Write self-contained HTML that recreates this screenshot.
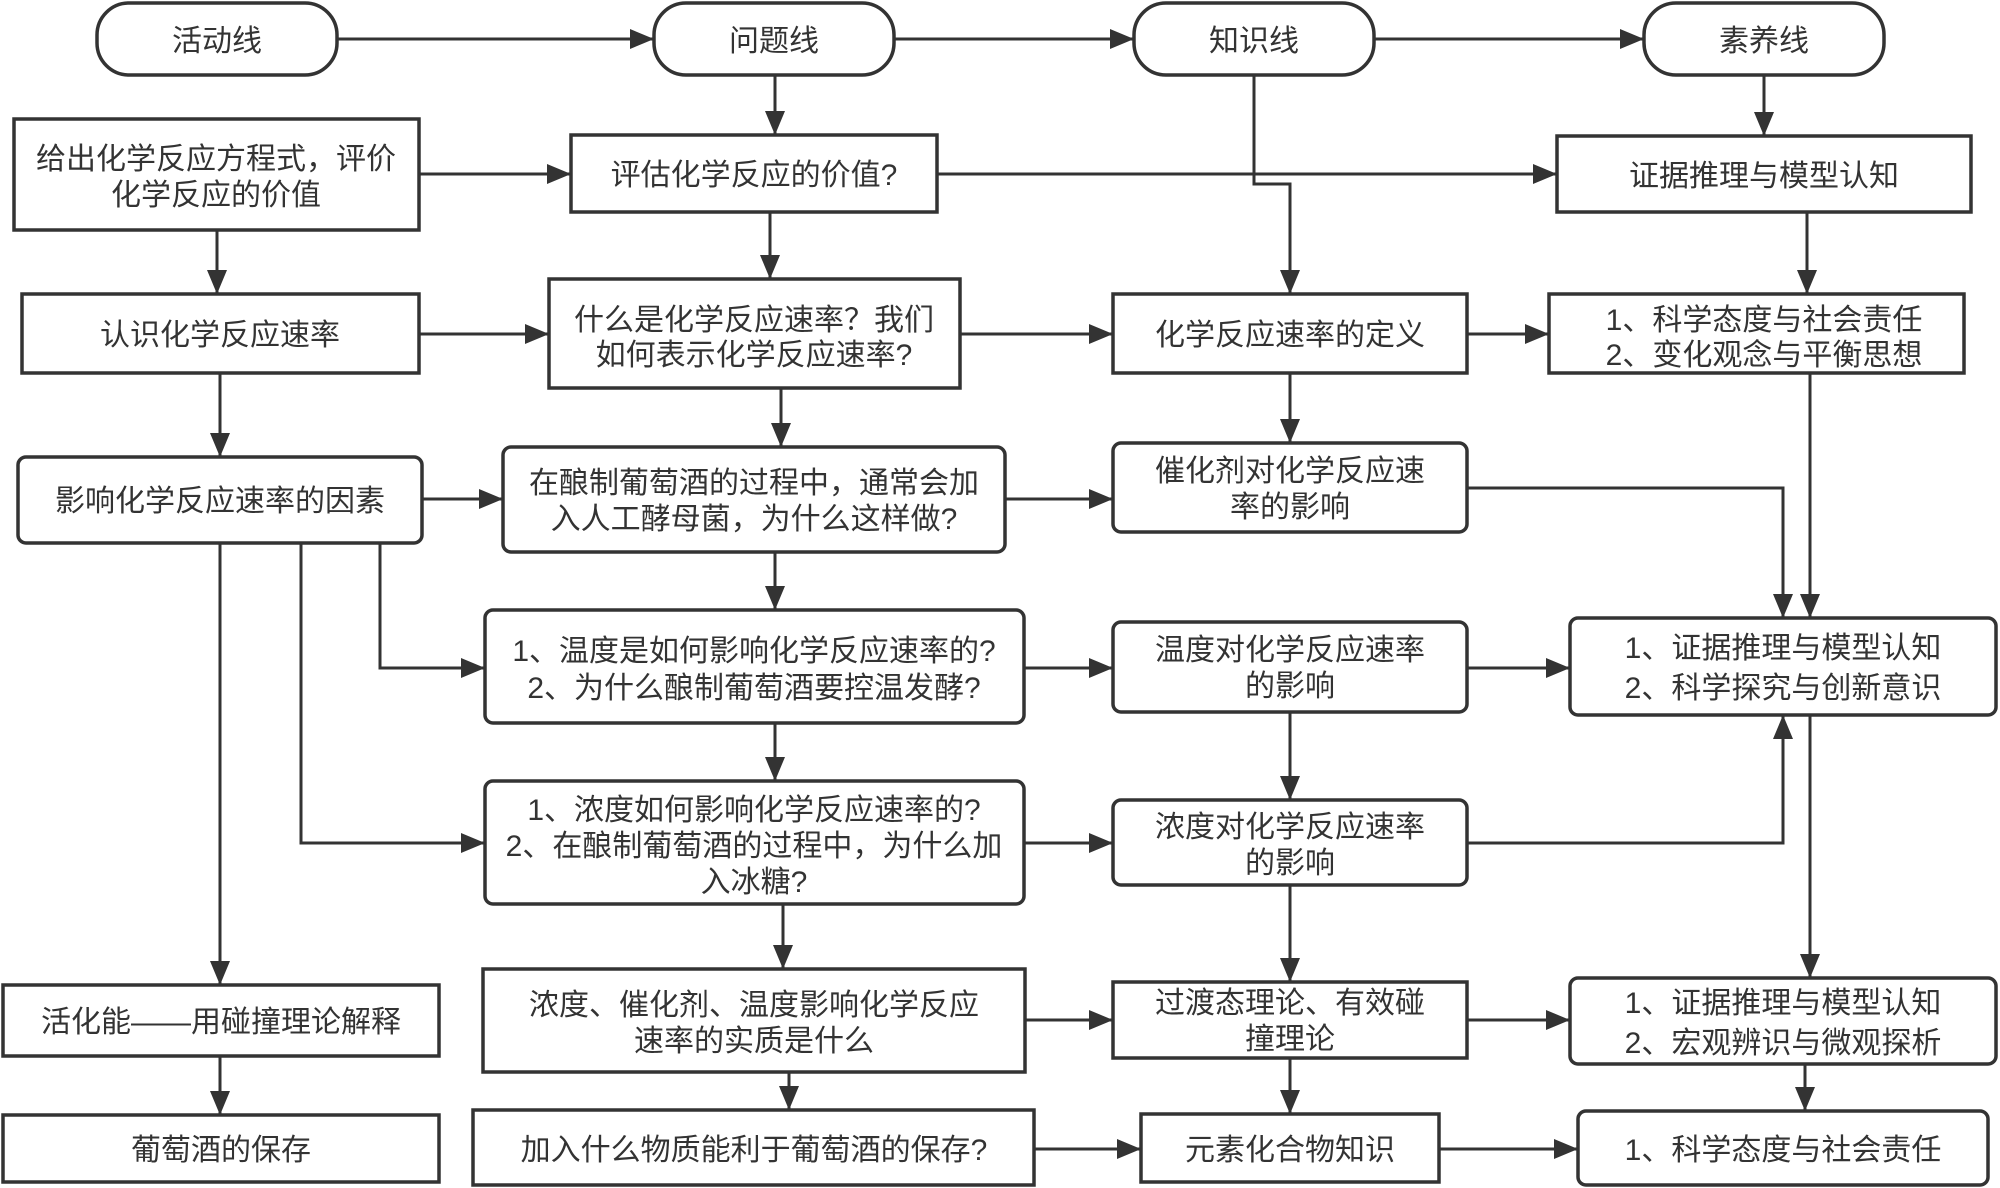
<!DOCTYPE html>
<html><head><meta charset="utf-8"><style>
html,body{margin:0;padding:0;background:#fff;}
svg{display:block;}
text{font-family:"Liberation Sans","Noto Sans CJK SC",sans-serif;font-size:30px;fill:#333;text-anchor:middle;}
</style></head><body>
<svg width="2000" height="1188" viewBox="0 0 2000 1188" xmlns="http://www.w3.org/2000/svg">
<defs>
<marker id="b" viewBox="0 0 24 20" refX="24" refY="10" markerWidth="24" markerHeight="20" markerUnits="userSpaceOnUse" orient="auto">
<path d="M0,0 L24,10 L0,20 z" fill="#333"/>
</marker>
</defs>
<g fill="#fff" stroke="#333" stroke-width="3.5">
<rect x="97" y="3" width="240" height="72" rx="32"/>
<rect x="654" y="3" width="240" height="72" rx="32"/>
<rect x="1134" y="3" width="240" height="72" rx="32"/>
<rect x="1644" y="3" width="240" height="72" rx="32"/>
<rect x="14" y="119" width="405" height="111"/>
<rect x="22" y="294" width="397" height="79"/>
<rect x="18" y="457" width="404" height="86" rx="8"/>
<rect x="3" y="985" width="436" height="71"/>
<rect x="3" y="1115" width="436" height="67"/>
<rect x="571" y="135" width="366" height="77"/>
<rect x="549" y="279" width="411" height="109"/>
<rect x="503" y="447" width="502" height="105" rx="8"/>
<rect x="485" y="610" width="539" height="113" rx="8"/>
<rect x="485" y="781" width="539" height="123" rx="8"/>
<rect x="483" y="969" width="542" height="103"/>
<rect x="473" y="1110" width="561" height="75"/>
<rect x="1113" y="294" width="354" height="79"/>
<rect x="1113" y="443" width="354" height="89" rx="8"/>
<rect x="1113" y="622" width="354" height="90" rx="8"/>
<rect x="1113" y="800" width="354" height="85" rx="8"/>
<rect x="1113" y="982" width="354" height="76"/>
<rect x="1141" y="1114" width="298" height="68"/>
<rect x="1557" y="136" width="414" height="76"/>
<rect x="1549" y="294" width="415" height="79"/>
<rect x="1570" y="618" width="426" height="97" rx="8"/>
<rect x="1570" y="978" width="426" height="86" rx="8"/>
<rect x="1578" y="1111" width="410" height="74" rx="8"/>
</g>
<g fill="none" stroke="#333" stroke-width="3" marker-end="url(#b)">
<path d="M337,39 H654"/>
<path d="M894,39 H1134"/>
<path d="M1374,39 H1644"/>
<path d="M775,75 V135"/>
<path d="M1764,75 V136"/>
<path d="M1254,75 V184 H1290 V294"/>
<path d="M419,174 H571"/>
<path d="M937,174 H1557"/>
<path d="M217,230 V294"/>
<path d="M419,334 H549"/>
<path d="M960,334 H1113"/>
<path d="M1467,334 H1549"/>
<path d="M770,212 V279"/>
<path d="M1807,212 V294"/>
<path d="M220,373 V457"/>
<path d="M422,499 H503"/>
<path d="M1005,499 H1113"/>
<path d="M781,388 V447"/>
<path d="M1290,373 V443"/>
<path d="M1467,488 H1783 V618"/>
<path d="M1810,373 V618"/>
<path d="M775,552 V610"/>
<path d="M220,543 V985"/>
<path d="M301,543 V843 H485"/>
<path d="M380,543 V668 H485"/>
<path d="M1024,668 H1113"/>
<path d="M1467,668 H1570"/>
<path d="M775,723 V781"/>
<path d="M1024,843 H1113"/>
<path d="M1467,843 H1783 V715"/>
<path d="M1290,712 V800"/>
<path d="M1290,885 V982"/>
<path d="M1810,715 V978"/>
<path d="M783,904 V969"/>
<path d="M1025,1020 H1113"/>
<path d="M1467,1020 H1570"/>
<path d="M220,1056 V1115"/>
<path d="M789,1072 V1110"/>
<path d="M1034,1149 H1141"/>
<path d="M1439,1149 H1578"/>
<path d="M1290,1058 V1114"/>
<path d="M1805,1064 V1111"/>
</g>
<g>
<text x="217" y="51">活动线</text>
<text x="774" y="51">问题线</text>
<text x="1254" y="51">知识线</text>
<text x="1764" y="51">素养线</text>

<text x="216" y="169">给出化学反应方程式，评价</text>
<text x="216" y="205">化学反应的价值</text>
<text x="220" y="345">认识化学反应速率</text>
<text x="220" y="511">影响化学反应速率的因素</text>
<text x="221" y="1032">活化能——用碰撞理论解释</text>
<text x="221" y="1160">葡萄酒的保存</text>

<text x="754" y="185">评估化学反应的价值?</text>
<text x="754" y="330">什么是化学反应速率？我们</text>
<text x="754" y="365">如何表示化学反应速率?</text>
<text x="754" y="493">在酿制葡萄酒的过程中，通常会加</text>
<text x="754" y="529">入人工酵母菌，为什么这样做?</text>
<text x="754" y="661">1、温度是如何影响化学反应速率的?</text>
<text x="754" y="698">2、为什么酿制葡萄酒要控温发酵?</text>
<text x="754" y="820">1、浓度如何影响化学反应速率的?</text>
<text x="754" y="856">2、在酿制葡萄酒的过程中，为什么加</text>
<text x="754" y="892">入冰糖?</text>
<text x="754" y="1015">浓度、催化剂、温度影响化学反应</text>
<text x="754" y="1051">速率的实质是什么</text>
<text x="754" y="1160">加入什么物质能利于葡萄酒的保存?</text>

<text x="1290" y="345">化学反应速率的定义</text>
<text x="1290" y="481">催化剂对化学反应速</text>
<text x="1290" y="517">率的影响</text>
<text x="1290" y="660">温度对化学反应速率</text>
<text x="1290" y="696">的影响</text>
<text x="1290" y="837">浓度对化学反应速率</text>
<text x="1290" y="873">的影响</text>
<text x="1290" y="1013">过渡态理论、有效碰</text>
<text x="1290" y="1049">撞理论</text>
<text x="1290" y="1160">元素化合物知识</text>

<text x="1764" y="186">证据推理与模型认知</text>
<text x="1764" y="330">1、科学态度与社会责任</text>
<text x="1764" y="365">2、变化观念与平衡思想</text>
<text x="1783" y="658">1、证据推理与模型认知</text>
<text x="1783" y="698">2、科学探究与创新意识</text>
<text x="1783" y="1013">1、证据推理与模型认知</text>
<text x="1783" y="1053">2、宏观辨识与微观探析</text>
<text x="1783" y="1160">1、科学态度与社会责任</text>
</g>
</svg>
</body></html>
